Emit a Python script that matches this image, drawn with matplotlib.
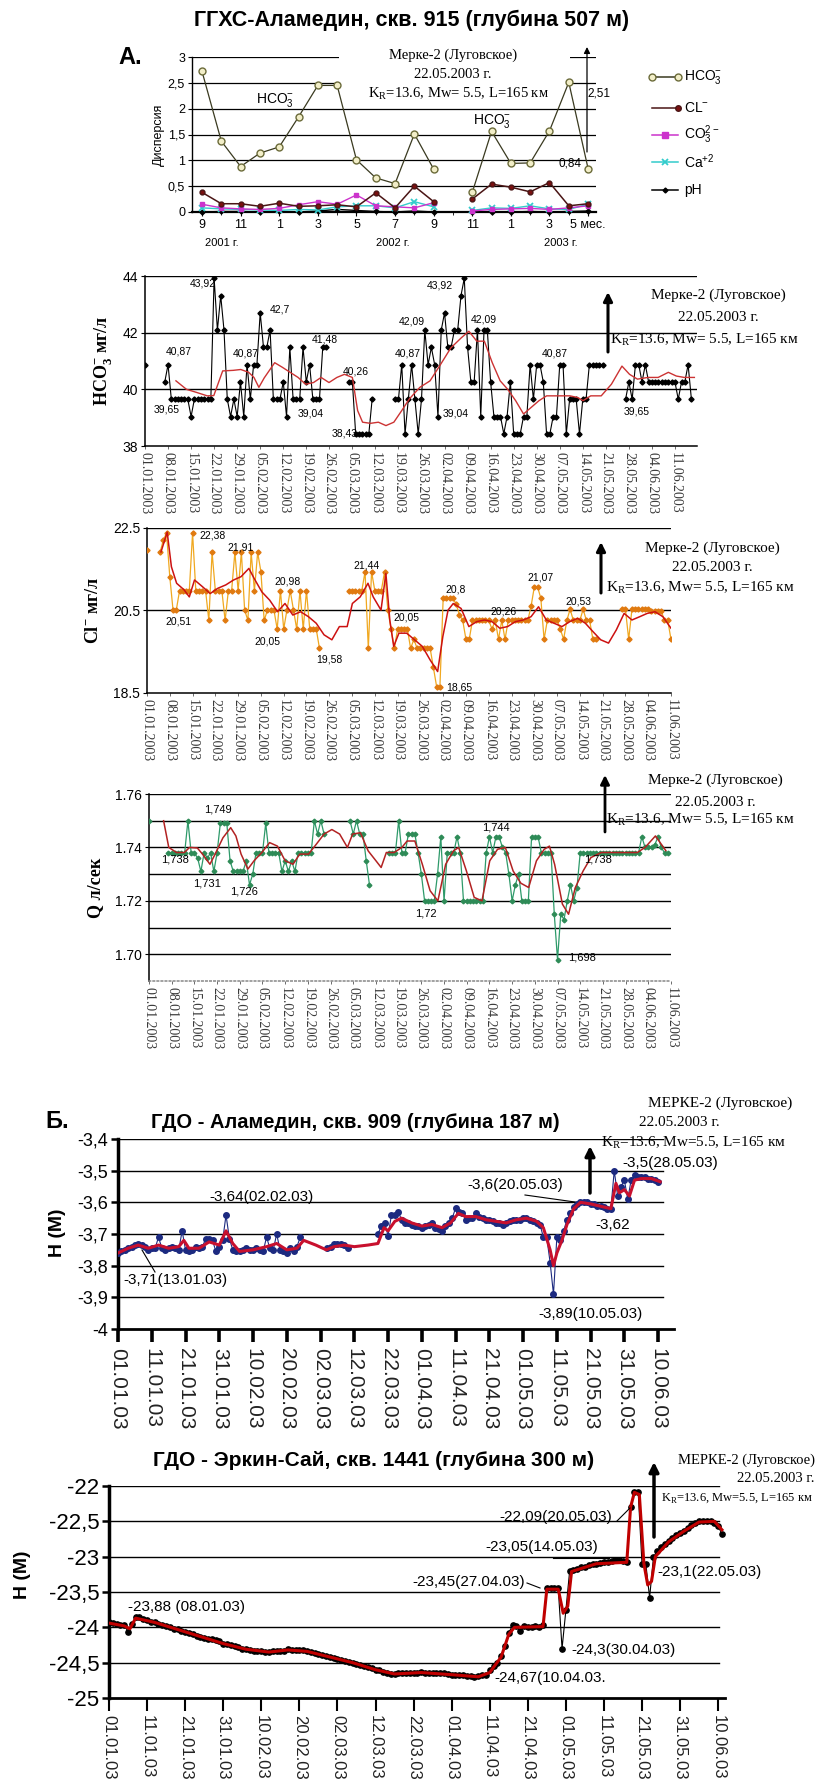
import datetime

import numpy as np
import matplotlib
matplotlib.use("Agg")
from matplotlib import pyplot as plt
from matplotlib.lines import Line2D
from matplotlib.patches import FancyArrowPatch, Rectangle

nan = np.nan

# ---------------- panel A: monthly dispersion (Sep 2001 .. May 2003) ----------------
a_tick_labels = ["9", "11", "1", "3", "5", "7", "9", "11", "1", "3", "5 мес."]
a_hco3 = [2.72, 1.37, 0.88, 1.14, 1.26, 1.84, 2.45, 2.45, 1.01, 0.66, 0.55, 1.51, 0.83,
          nan, 0.38, 1.56, 0.94, 0.95, 1.57, 2.51, 0.84]
a_cl = [0.38, 0.16, 0.16, 0.11, 0.17, 0.11, 0.12, 0.14, 0.10, 0.37, 0.08, 0.50, 0.20,
        nan, 0.25, 0.54, 0.48, 0.39, 0.57, 0.12, 0.16]
a_co3 = [0.15, 0.08, 0.06, 0.05, 0.07, 0.14, 0.20, 0.15, 0.33, 0.12, 0.10, 0.08, 0.18,
         nan, 0.02, 0.05, 0.06, 0.07, 0.05, 0.08, 0.12]
a_ca = [0.08, 0.06, 0.05, 0.04, 0.03, 0.05, 0.04, 0.10, 0.12, 0.12, 0.08, 0.20, 0.10,
        nan, 0.03, 0.08, 0.07, 0.12, 0.06, 0.05, 0.15]
a_ph = [0.00, 0.01, 0.01, 0.00, 0.01, 0.00, 0.02, 0.05, 0.03, 0.01, 0.00, 0.02, 0.00,
        nan, 0.00, 0.00, 0.00, 0.01, 0.00, 0.01, 0.02]

# ---------------- daily series, Jan 1 2003 onwards ----------------
week_labels = ["01.01.2003", "08.01.2003", "15.01.2003", "22.01.2003", "29.01.2003",
               "05.02.2003", "12.02.2003", "19.02.2003", "26.02.2003", "05.03.2003",
               "12.03.2003", "19.03.2003", "26.03.2003", "02.04.2003", "09.04.2003",
               "16.04.2003", "23.04.2003", "30.04.2003", "07.05.2003", "14.05.2003",
               "21.05.2003", "28.05.2003", "04.06.2003", "11.06.2003"]
decade_labels = ["01.01.03", "11.01.03", "21.01.03", "31.01.03", "10.02.03", "20.02.03",
                 "02.03.03", "12.03.03", "22.03.03", "01.04.03", "11.04.03", "21.04.03",
                 "01.05.03", "11.05.03", "21.05.03", "31.05.03", "10.06.03"]

hco3 = [40.87, nan, nan, nan, nan, nan, 40.26, 40.87, 39.65, 39.65,
        39.65, 39.65, 39.65, 39.65, 39.04, 39.65, 39.65, 39.65, 39.65, 39.65,
        39.65, 43.92, 42.09, 43.31, 42.09, 39.65, 39.04, 39.65, 39.04, 40.26,
        39.04, 40.87, 39.65, 40.87, 40.87, 42.70, 41.48, 41.48, 42.09, 39.65,
        39.65, 39.65, 40.26, 39.04, 41.48, 39.65, 39.65, 39.65, 41.48, 40.26,
        40.87, 39.65, 39.65, 39.65, 41.48, 41.48, nan, nan, nan, nan,
        nan, nan, 40.26, 40.26, 38.43, 38.43, 38.43, 38.43, 38.43, 39.65,
        nan, nan, nan, nan, nan, nan, 39.65, 39.65, 40.87, 38.43,
        39.65, 40.87, 39.65, 38.43, 39.65, 42.09, 40.87, 41.48, 40.87, 39.04,
        42.09, 42.70, 41.48, 41.48, 42.09, 42.09, 43.31, 43.92, 41.48, 40.26,
        40.26, 42.09, 39.04, 42.09, 42.09, 40.26, 39.04, 39.04, 39.04, 38.43,
        39.04, 40.26, 38.43, 38.43, 38.43, 39.04, 39.04, 40.87, 39.65, 40.87,
        40.87, 40.26, 38.43, 38.43, 39.04, 39.04, 40.87, 40.87, 38.43, 39.65,
        39.65, 39.65, 38.43, 39.65, 39.65, 40.87, 40.87, 40.87, 40.87, 40.87,
        nan, nan, nan, nan, nan, nan, 39.65, 40.26, 39.65, 40.87,
        40.87, 40.26, 40.87, 40.26, 40.26, 40.26, 40.26, 40.26, 40.26, 40.26,
        40.26, 40.26, 39.65, 40.26, 40.26, 40.87, 39.65]
hco3_red_day = [9.4, 12.6, 15.7, 18.9, 20.9, 23.6, 26.8, 29.1, 31.5, 33.1, 34.6, 36.2, 39.4,
                41.7, 44.1, 46.5, 48.8, 51.2, 53.5, 55.9, 58.3, 60.6, 63.0, 64.6, 66.1, 68.5,
                70.9, 73.2, 75.6, 78.0, 80.3, 83.5, 86.6, 89.8, 92.9, 96.1, 98.4, 100.8,
                103.1, 105.5, 107.9, 110.2, 112.6, 115.0, 117.3, 119.7, 122.0, 124.4, 126.8,
                129.1, 131.5, 133.1, 135.4, 138.6, 141.7, 144.9, 147.2, 149.6, 152.8, 155.9,
                159.0, 161.4, 163.8, 166.9]
hco3_red_val = [40.30, 40.00, 39.89, 39.77, 39.78, 40.65, 40.67, 40.70, 40.60, 40.42, 40.07,
                40.40, 40.94, 40.78, 40.60, 40.42, 40.18, 40.24, 40.42, 40.24, 40.42, 40.53,
                40.42, 39.25, 38.84, 38.80, 38.84, 38.72, 38.84, 39.25, 39.66, 40.07, 40.30,
                40.88, 41.46, 41.82, 42.05, 41.70, 41.70, 40.94, 40.30, 40.00, 39.60, 39.13,
                39.36, 39.60, 39.77, 39.77, 39.77, 39.77, 39.71, 39.60, 39.77, 39.77, 40.18,
                40.82, 40.53, 40.36, 40.42, 40.42, 40.60, 40.47, 40.42, 40.42]

cl = [21.96, nan, nan, nan, 21.91, 22.20, 22.38, 21.32, 20.51, 20.51,
      20.98, 20.98, 20.98, 20.98, 22.38, 20.98, 20.98, 20.98, 20.98, 20.26,
      21.91, 20.98, 20.98, 20.98, 20.26, 20.98, 20.98, 21.91, 20.98, 21.91,
      20.51, 20.26, 21.91, 20.98, 21.91, 21.44, 20.26, 20.51, 20.51, 20.51,
      20.05, 20.98, 20.05, 20.51, 20.98, 20.51, 20.05, 20.98, 20.05, 20.98,
      20.05, 20.05, 20.05, 19.58, nan, nan, nan, nan, nan, nan,
      nan, nan, 20.98, 20.98, 20.98, 20.98, 20.98, 21.44, 19.58, 21.44,
      20.98, 20.98, 20.98, 21.44, 20.51, 20.05, 19.58, 20.05, 20.05, 20.05,
      20.05, 19.58, 19.80, 19.58, 19.58, 19.58, 19.58, 19.58, 19.12, 18.65,
      18.65, 20.80, 20.80, 20.80, 20.80, 20.65, 20.40, 20.26, 19.80, 19.80,
      20.26, 20.26, 20.26, 20.26, 20.26, 20.26, 20.05, 20.26, 19.80, 20.26,
      19.80, 20.26, 20.26, 20.26, 20.26, 20.26, 20.26, 20.26, 20.60, 21.07,
      21.07, 20.80, 19.80, 20.26, 20.26, 20.26, 20.26, 20.05, 19.80, 20.26,
      20.53, 20.26, 20.26, 20.26, 20.53, 20.26, 20.26, 19.80, 19.80, nan,
      nan, nan, nan, nan, nan, nan, 20.53, 20.53, 19.80, 20.53,
      20.53, 20.53, 20.53, 20.53, 20.53, 20.49, 20.49, 20.49, 20.49, 20.26,
      20.26, 19.80]
cl_red_day = [4.3, 6.2, 7.5, 9.1, 11.4, 13.0, 14.6, 17.0, 19.4, 21.8, 24.2, 26.6, 28.9, 31.3,
              32.9, 35.3, 37.7, 40.1, 42.4, 44.8, 47.2, 49.6, 52.0, 54.4, 56.8, 59.1, 61.5,
              63.1, 65.5, 67.9, 69.5, 71.9, 73.4, 74.6, 75.8, 77.4, 79.8, 82.2, 84.6, 87.0,
              89.3, 90.9, 92.5, 94.1, 96.5, 98.9, 101.3, 103.7, 106.0, 108.4, 110.8, 113.2,
              115.6, 118.0, 120.3, 122.7, 125.1, 127.5, 129.9, 132.3, 134.7, 137.0, 139.4,
              141.8, 144.2, 146.6, 149.0, 151.4, 153.7, 156.1, 158.5, 161.0]
cl_red_val = [21.92, 22.40, 21.56, 21.16, 21.00, 20.83, 21.24, 21.08, 20.91, 21.04, 21.12,
              21.24, 21.32, 21.52, 21.28, 20.95, 20.75, 20.47, 20.67, 20.39, 20.47, 20.35,
              20.19, 19.91, 19.79, 20.11, 20.11, 20.67, 20.83, 21.16, 20.83, 20.51, 21.40,
              20.27, 19.63, 19.95, 19.95, 19.79, 19.63, 19.30, 19.02, 19.87, 20.51, 20.67,
              20.55, 20.11, 20.23, 20.27, 20.23, 20.07, 20.11, 20.23, 20.27, 20.35, 20.59,
              20.27, 20.19, 20.11, 20.23, 20.31, 20.19, 19.99, 19.79, 19.71, 20.03, 20.43,
              20.27, 20.35, 20.43, 20.47, 20.35, 20.07]

q = [1.750, nan, nan, nan, nan, nan, 1.738, 1.738, 1.738, 1.738,
     1.738, 1.738, 1.750, 1.738, 1.738, 1.736, 1.731, 1.738, 1.736, 1.738,
     1.731, 1.738, 1.749, 1.749, 1.749, 1.735, 1.731, 1.731, 1.731, 1.731,
     1.735, 1.726, 1.730, 1.738, 1.738, 1.738, 1.749, 1.738, 1.738, 1.738,
     1.738, 1.731, 1.735, 1.731, 1.735, 1.731, 1.738, 1.738, 1.738, 1.738,
     1.738, 1.750, 1.745, 1.750, 1.745, nan, nan, nan, nan, nan,
     nan, nan, 1.750, 1.745, 1.750, 1.745, 1.745, 1.735, 1.726, nan,
     nan, nan, nan, nan, 1.738, 1.738, 1.738, 1.750, 1.738, 1.738,
     1.745, 1.745, 1.745, 1.738, 1.730, 1.720, 1.720, 1.720, 1.720, 1.730,
     1.744, 1.720, 1.738, 1.738, 1.738, 1.744, 1.738, 1.720, 1.720, 1.720,
     1.720, 1.720, 1.720, 1.720, 1.738, 1.744, 1.738, 1.744, 1.744, 1.740,
     1.738, 1.730, 1.720, 1.726, 1.730, 1.720, 1.720, 1.720, 1.744, 1.744,
     1.744, 1.738, 1.738, 1.738, 1.738, 1.715, 1.698, 1.715, 1.713, 1.720,
     1.726, 1.720, 1.725, 1.738, 1.738, 1.738, 1.738, 1.738, 1.738, 1.738,
     1.738, 1.738, 1.738, 1.738, 1.738, 1.738, 1.738, 1.738, 1.738, 1.738,
     1.738, 1.738, 1.744, 1.740, 1.740, 1.740, 1.741, 1.744, 1.740, 1.738,
     1.738]
q_red_day = [4.5, 6.1, 8.5, 10.9, 12.5, 14.9, 16.5, 18.8, 20.4, 22.8, 25.2, 26.8, 28.4, 30.5,
             32.4, 34.8, 37.2, 39.6, 42.0, 44.4, 46.5, 49.2, 51.6, 54.0, 56.4, 58.8, 61.2,
             62.8, 65.2, 67.6, 70.0, 71.6, 73.2, 75.6, 78.0, 79.6, 82.0, 84.3, 86.7, 89.1,
             91.5, 93.9, 95.5, 97.9, 100.3, 102.7, 105.1, 107.5, 109.9, 112.3, 114.7, 117.1,
             119.5, 121.9, 123.5, 125.1, 127.5, 129.4, 131.5, 133.9, 136.3, 139.5, 145.8,
             150.6, 153.0, 156.2, 159.4]
q_red_val = [1.7500, 1.7400, 1.7381, 1.7381, 1.7400, 1.7398, 1.7375, 1.7337, 1.7375, 1.7436,
             1.7474, 1.7443, 1.7375, 1.7319, 1.7350, 1.7381, 1.7418, 1.7405, 1.7350, 1.7337,
             1.7375, 1.7375, 1.7412, 1.7450, 1.7467, 1.7450, 1.7400, 1.7450, 1.7455, 1.7387,
             1.7350, 1.7325, 1.7381, 1.7381, 1.7400, 1.7424, 1.7424, 1.7337, 1.7238, 1.7200,
             1.7337, 1.7387, 1.7400, 1.7312, 1.7213, 1.7200, 1.7350, 1.7393, 1.7400, 1.7312,
             1.7266, 1.7250, 1.7350, 1.7393, 1.7405, 1.7337, 1.7188, 1.7150, 1.7250, 1.7312,
             1.7362, 1.7381, 1.7381, 1.7381, 1.7400, 1.7443, 1.7388]

h909 = [-3.760, -3.755, -3.750, -3.745, -3.740, -3.735, -3.730, -3.735, -3.740, -3.750,
        -3.745, -3.745, -3.710, -3.745, -3.750, -3.745, -3.740, -3.745, -3.750, -3.690,
        -3.750, -3.755, -3.750, -3.740, -3.745, -3.740, -3.715, -3.715, -3.720, -3.755,
        -3.740, -3.720, -3.640, -3.715, -3.750, -3.755, -3.755, -3.750, -3.745, -3.750,
        -3.750, -3.745, -3.750, -3.755, -3.710, -3.745, -3.750, -3.700, -3.750, -3.755,
        -3.760, -3.745, -3.755, -3.740, -3.710, nan, nan, nan, nan, nan,
        nan, nan, -3.745, -3.740, -3.730, -3.730, -3.730, -3.735, -3.745, nan,
        nan, nan, nan, nan, nan, nan, nan, -3.700, -3.675, -3.665,
        -3.705, -3.640, -3.640, -3.630, -3.655, -3.665, -3.665, -3.670, -3.675, -3.675,
        -3.680, -3.675, -3.670, -3.665, -3.680, -3.685, -3.690, -3.675, -3.665, -3.650,
        -3.618, -3.630, -3.635, -3.655, -3.650, -3.650, -3.635, -3.645, -3.650, -3.655,
        -3.655, -3.660, -3.665, -3.665, -3.670, -3.665, -3.660, -3.655, -3.655, -3.655,
        -3.650, -3.650, -3.655, -3.660, -3.665, -3.670, -3.710, -3.710, -3.790, -3.890,
        -3.710, -3.720, -3.690, -3.655, -3.635, -3.615, -3.605, -3.600, -3.600, -3.600,
        -3.605, -3.605, -3.610, -3.610, -3.615, -3.620, -3.620, -3.500, -3.580, -3.550,
        -3.530, -3.590, -3.530, -3.515, -3.520, -3.520, -3.520, -3.525, -3.525, -3.530,
        -3.535]
h909_red_day = [0, 3, 6, 9, 12, 15, 18, 19.5, 21, 24, 27, 30, 32, 34, 36, 40, 44, 47, 50, 53,
                55, 58.6, 61.7, 64, 67, 70, 74, 77, 78.8, 80, 82, 84, 87, 90, 93, 96, 98.5,
                100.8, 103, 106, 109, 112, 115, 118, 121, 124, 126, 128, 129, 130, 131.5, 133,
                135, 137, 140, 144, 146, 147.5, 148.5, 150, 151.5, 153, 155, 158, 160.6]
h909_red_val = [-3.760, -3.745, -3.735, -3.745, -3.735, -3.745, -3.740, -3.720, -3.745,
                -3.745, -3.725, -3.735, -3.690, -3.730, -3.755, -3.750, -3.740, -3.730,
                -3.750, -3.745, -3.720, -3.735, -3.750, -3.740, -3.735, -3.740, -3.735,
                -3.730, -3.680, -3.690, -3.660, -3.650, -3.665, -3.675, -3.670, -3.680,
                -3.665, -3.635, -3.645, -3.645, -3.655, -3.660, -3.665, -3.655, -3.650,
                -3.660, -3.680, -3.750, -3.800, -3.760, -3.720, -3.670, -3.620, -3.600,
                -3.605, -3.615, -3.620, -3.540, -3.570, -3.560, -3.580, -3.530, -3.525,
                -3.525, -3.535]

h1441 = [-23.93, -23.94, -23.95, -23.96, -23.97, -24.06, -23.95, -23.86, -23.86, -23.88,
         -23.90, -23.92, -23.93, -23.95, -23.97, -23.98, -24.00, -24.02, -24.03, -24.05,
         -24.07, -24.08, -24.10, -24.12, -24.13, -24.15, -24.16, -24.17, -24.18, -24.20,
         -24.24, -24.24, -24.25, -24.26, -24.28, -24.30, -24.31, -24.32, -24.33, -24.34,
         -24.34, -24.35, -24.35, -24.34, -24.34, -24.34, -24.33, -24.31, -24.32, -24.32,
         -24.32, -24.32, -24.34, -24.35, -24.36, -24.38, -24.39, -24.40, -24.42, -24.44,
         -24.45, -24.46, -24.48, -24.49, -24.50, -24.52, -24.54, -24.55, -24.56, -24.58,
         -24.60, -24.61, -24.63, -24.64, -24.66, -24.66, -24.65, -24.64, -24.64, -24.65,
         -24.64, -24.64, -24.63, -24.64, -24.64, -24.65, -24.64, -24.64, -24.65, -24.66,
         -24.67, -24.67, -24.67, -24.68, -24.69, -24.69, -24.70, -24.69, -24.68, -24.67,
         -24.61, -24.55, -24.50, -24.40, -24.27, -24.08, -23.97, -23.98, -24.05, -23.98,
         -24.00, -23.99, -23.98, -24.00, -23.97, -23.45, -23.45, -23.45, -23.45, -24.30,
         -23.76, -23.20, -23.19, -23.17, -23.15, -23.14, -23.12, -23.11, -23.10, -23.09,
         -23.08, -23.07, -23.06, -23.05, -23.05, -23.06, -23.08, -22.30, -22.09, -22.09,
         -23.10, -23.10, -23.58, -23.01, -22.92, -22.87, -22.82, -22.78, -22.74, -22.70,
         -22.66, -22.64, -22.60, -22.55, -22.52, -22.50, -22.50, -22.50, -22.50, -22.52,
         -22.57, -22.68]
h1441_red_day = [0, 4, 5.5, 7, 12, 18, 24, 30, 36, 42, 47, 52, 58, 64, 70, 75, 82, 90, 97,
                 100, 103, 105, 106.5, 114, 115, 118, 119.3, 120.5, 121.5, 128, 136, 137, 138,
                 139.3, 140.5, 141.5, 142.5, 143.5, 147, 151, 155, 159, 161]
h1441_red_val = [-23.94, -23.98, -24.02, -23.87, -23.93, -24.03, -24.13, -24.23, -24.31,
                 -24.35, -24.32, -24.34, -24.42, -24.50, -24.60, -24.66, -24.64, -24.67,
                 -24.70, -24.64, -24.42, -24.10, -24.00, -23.99, -23.46, -23.46, -23.80,
                 -23.70, -23.21, -23.10, -23.08, -22.30, -22.09, -22.12, -23.10, -23.40,
                 -23.35, -23.00, -22.79, -22.64, -22.51, -22.50, -22.62]

W, H = 820, 1787
SANS = ["Liberation Sans", "DejaVu Sans"]
SERIF = ["Liberation Serif", "DejaVu Serif"]
plt.rcParams["font.family"] = SANS
plt.rcParams["mathtext.fontset"] = "custom"
plt.rcParams["mathtext.rm"] = "Liberation Sans"

fig = plt.figure(figsize=(W / 100, H / 100), dpi=100)
fig.patch.set_facecolor("white")


def px_axes(left, top, right, bottom):
    return fig.add_axes([left / W, 1 - bottom / H, (right - left) / W, (bottom - top) / H])


def ftext(x, y, s, **kw):
    kw.setdefault("ha", "center")
    kw.setdefault("va", "center")
    return fig.text(x / W, 1 - y / H, s, **kw)


def fline(xs, ys, **kw):
    kw.setdefault("color", "black")
    kw.setdefault("lw", 0.8)
    fig.add_artist(Line2D([x / W for x in xs], [1 - y / H for y in ys],
                          transform=fig.transFigure, **kw))


def farrow(x, y0, y1, lw=2.0, scale=14):
    fig.add_artist(FancyArrowPatch((x / W, 1 - y0 / H), (x / W, 1 - y1 / H),
                                   transform=fig.transFigure, arrowstyle="-|>",
                                   mutation_scale=scale, lw=lw, color="black",
                                   shrinkA=0, shrinkB=0))


def day_of(label):
    fmt = "%d.%m.%Y" if len(label) == 10 else "%d.%m.%y"
    return (datetime.datetime.strptime(label, fmt) - datetime.datetime(2003, 1, 1)).days


KR = "K$_{\\mathregular{R}}$"


def quake_note(x, y_name, y_date, y_k, x_k, size=11):
    ftext(x, y_name, "Мерке-2 (Луговское)", family=SERIF, size=size)
    ftext(x, y_date, "22.05.2003 г.", family=SERIF, size=size)
    ftext(x_k, y_k, KR + "=13.6, Mw= 5.5, L=165 км", family=SERIF, size=size, ha="left")


# ================= A =================
ftext(412, 20, "ГГХС-Аламедин, скв. 915 (глубина 507 м)", size=15.5, weight="bold")
ftext(130, 58, "А.", size=17, weight="bold")

axA = px_axes(192, 57, 596, 212)
months = np.arange(len(a_hco3))
axA.set_xlim(-0.52, 20.41)
axA.set_ylim(0, 3)
for v in [0.5, 1, 1.5, 2, 2.5, 3]:
    axA.axhline(v, color="black", lw=0.9, zorder=1)
axA.add_patch(Rectangle((7.1, 2.3), 11.95, 0.8, facecolor="white", edgecolor="none",
                        zorder=2, clip_on=False))
axA.plot(months, a_ph, color="black", lw=1, marker="D", ms=2.5, zorder=4, clip_on=False)
axA.plot(months, a_ca, color="#33CCCC", lw=1, marker="x", ms=4, mew=1.3, zorder=4, clip_on=False)
axA.plot(months, a_co3, color="#CC33CC", lw=1, marker="s", ms=3.5, zorder=4, clip_on=False)
axA.plot(months, a_cl, color="#4A1515", lw=1.1, marker="o", ms=3.5, mfc="#7A1010",
         zorder=5, clip_on=False)
axA.plot(months, a_hco3, color="#3A3A20", lw=0.9, marker="o", ms=5, mfc="#F2EEC8",
         mec="#6B6B3A", zorder=6, clip_on=False)
axA.spines["top"].set_visible(False)
axA.spines["right"].set_visible(False)
axA.spines["left"].set_linewidth(1.0)
axA.spines["bottom"].set_linewidth(1.6)
axA.set_yticks([0, 0.5, 1, 1.5, 2, 2.5, 3])
axA.set_yticklabels(["0", "0,5", "1", "1,5", "2", "2,5", "3"])
axA.set_xticks(np.arange(0, 21, 2))
axA.set_xticklabels(a_tick_labels)
axA.set_xticks(months, minor=True)
axA.tick_params(labelsize=9, length=3, width=0.8, pad=2)
axA.tick_params(which="minor", length=2)
axA.set_ylabel("Дисперсия", size=9, labelpad=2)

ftext(453, 55, "Мерке-2 (Луговское)", family=SERIF, size=10.5)
ftext(453, 74, "22.05.2003 г.", family=SERIF, size=10.5)
ftext(458, 94, KR + "=13.6, Mw= 5.5, L=165 км", family=SERIF, size=10.5)
farrow(587, 152, 47, lw=0.9, scale=9)
ftext(599, 93, "2,51", size=8.5)
ftext(570, 163, "0,84", size=8.5)
ftext(275, 100, "HCO$_{\\mathregular{3}}^{\\mathregular{-}}$", size=10)
ftext(492, 121, "HCO$_{\\mathregular{3}}^{\\mathregular{-}}$", size=10)
ftext(222, 243, "2001 г.", size=8)
ftext(393, 243, "2002 г.", size=8)
ftext(561, 243, "2003 г.", size=8)

leg = [("HCO$_{\\mathregular{3}}^{\\mathregular{-}}$", dict(color="#3A3A20", marker="o", ms=5,
                                                            mfc="#F2EEC8", mec="#6B6B3A",
                                                            markevery=[0, 2])),
       ("CL$^{\\mathregular{-}}$", dict(color="#4A1515", marker="o", ms=4, mfc="#7A1010",
                                       markevery=[2])),
       ("CO$_{\\mathregular{3}}^{\\mathregular{2-}}$", dict(color="#CC33CC", marker="s", ms=4,
                                                           markevery=[1])),
       ("Ca$^{\\mathregular{+2}}$", dict(color="#33CCCC", marker="x", ms=4, mew=1.3,
                                        markevery=[1])),
       ("pH", dict(color="black", marker="D", ms=2.5, markevery=[1]))]
for (label, style), y in zip(leg, [77, 108, 135, 162, 190]):
    fline([652, 665, 678], [y, y, y], lw=1.1, **style)
    ftext(684, y, label, size=10, ha="left")


def week_axis(ax, bottom_style="-"):
    ax.set_xticks([day_of(s) for s in week_labels])
    ax.set_xticklabels(week_labels, rotation=-90, family=SERIF, size=10, color="#3A3A3A")
    ax.tick_params(axis="x", length=2.5, width=0.6, pad=2, color="#555555")
    ax.tick_params(axis="y", labelsize=10, length=3, width=0.8, pad=2)
    ax.spines["top"].set_visible(False)
    ax.spines["right"].set_visible(False)
    ax.spines["left"].set_linewidth(1.1)
    ax.spines["bottom"].set_linewidth(1.1)
    ax.spines["bottom"].set_linestyle(bottom_style)


# ================= HCO3 =================
axH = px_axes(145, 276, 697, 446)
axH.set_xlim(0, 167.7)
axH.set_ylim(38, 44)
for v in [40, 42, 44]:
    axH.axhline(v, color="black", lw=1.0, zorder=1)
axH.plot(np.arange(len(hco3)), hco3, color="black", lw=0.8, marker="D", ms=2.6, zorder=3)
axH.plot(hco3_red_day, hco3_red_val, color="#CC3333", lw=1.0, zorder=4)
axH.set_yticks([38, 40, 42, 44])
week_axis(axH)
axH.set_ylabel("HCO$_{\\mathregular{3}}^{\\mathregular{-}}$ мг/л", family=SERIF, size=13,
               weight="bold", labelpad=6)
for x, y, s in [(203, 284, "43,92"), (179, 352, "40,87"), (167, 409, "39,65"),
                (246, 353, "40,87"), (280, 310, "42,7"), (325, 339, "41,48"),
                (311, 414, "39,04"), (356, 372, "40,26"), (345, 433, "38,43"),
                (408, 353, "40,87"), (412, 322, "42,09"), (440, 285, "43,92"),
                (484, 320, "42,09"), (456, 414, "39,04"), (555, 353, "40,87"),
                (637, 412, "39,65")]:
    ftext(x, y, s, size=7.5)
farrow(608, 352, 292, lw=2.2, scale=13)
quake_note(718, 295, 318, 340, 610)

# ================= Cl =================
axC = px_axes(147, 528, 671, 693)
axC.set_xlim(0, 161)
axC.set_ylim(18.5, 22.5)
for v in [20.5, 22.5]:
    axC.axhline(v, color="black", lw=1.0, zorder=1)
axC.plot(np.arange(len(cl)), cl, color="#F0A820", lw=0.9, marker="D", ms=2.6,
         mfc="#E07A10", mec="#E07A10", zorder=3)
axC.plot(cl_red_day, cl_red_val, color="#CC1111", lw=1.1, zorder=4)
axC.set_yticks([18.5, 20.5, 22.5])
axC.set_yticklabels(["18.5", "20.5", "22.5"])
week_axis(axC)
axC.set_ylabel("Cl$^{\\mathregular{-}}$ мг/л", family=SERIF, size=13, weight="bold",
               labelpad=8)
for x, y, s in [(213, 536, "22,38"), (241, 548, "21,91"), (288, 582, "20,98"),
                (179, 621, "20,51"), (267, 642, "20,05"), (329, 660, "19,58"),
                (367, 565, "21,44"), (406, 618, "20,05"), (459, 688, "18,65"),
                (456, 590, "20,8"), (504, 611, "20,26"), (541, 578, "21,07"),
                (578, 602, "20,53")]:
    ftext(x, y, s, size=7.5)
farrow(601, 593, 542, lw=2.2, scale=13)
quake_note(712, 548, 568, 588, 606)

# ================= Q =================
axQ = px_axes(149, 794, 671, 981)
axQ.set_xlim(0, 161)
axQ.set_ylim(1.69, 1.76)
for v in [1.70, 1.71, 1.72, 1.73, 1.74, 1.75, 1.76]:
    axQ.axhline(v, color="black", lw=1.0, zorder=1)
axQ.plot(np.arange(len(q)), q, color="#2E9A6A", lw=0.9, marker="D", ms=2.4,
         mfc="#2E8B57", mec="#2E8B57", zorder=3)
axQ.plot(q_red_day, q_red_val, color="#B22222", lw=1.1, zorder=4)
axQ.set_yticks([1.70, 1.72, 1.74, 1.76])
axQ.set_yticklabels(["1.70", "1.72", "1.74", "1.76"])
week_axis(axQ, bottom_style=":")
axQ.spines["bottom"].set_color("#888888")
axQ.set_ylabel("Q л/сек", family=SERIF, size=13, weight="bold", labelpad=8)
for x, y, s in [(218, 809, "1,749"), (175, 860, "1,738"), (207, 883, "1,731"),
                (244, 891, "1,726"), (496, 827, "1,744"), (426, 913, "1,72"),
                (598, 860, "1,738"), (582, 958, "1,698")]:
    ftext(x, y, s, size=8)
farrow(605, 832, 775, lw=2.0, scale=13)
quake_note(715, 780, 802, 820, 606)


def decade_axis(ax, ylabels, ysize, tick_w, xsize, xpad):
    ax.set_xticks([day_of(s) for s in decade_labels])
    ax.set_xticklabels(decade_labels, rotation=-90, size=xsize, color="#222222")
    ax.tick_params(axis="x", length=9, width=tick_w, pad=xpad, direction="out")
    ax.tick_params(axis="y", length=5, width=1.8, pad=2, labelsize=ysize)
    ax.set_yticklabels(ylabels)
    ax.spines["top"].set_visible(False)
    ax.spines["right"].set_visible(False)
    ax.spines["left"].set_linewidth(2.5)
    ax.spines["bottom"].set_linewidth(2.0)


# ================= Б =================
ftext(57, 1121, "Б.", size=17, weight="bold")
ftext(355, 1123, "ГДО - Аламедин, скв. 909 (глубина 187 м)", size=14.5, weight="bold")
axB = px_axes(118, 1139, 674, 1329)
axB.set_xlim(0, 164.7)
axB.set_ylim(-4, -3.4)
for v in [-3.9, -3.8, -3.7, -3.6, -3.5, -3.4]:
    axB.axhline(v, xmax=0.98, color="black", lw=1.0, zorder=1)
axB.plot(np.arange(len(h909)), h909, color="#1C2A80", lw=0.8, marker="o", ms=4,
         zorder=3)
axB.plot(h909_red_day, h909_red_val, color="#C8102E", lw=2.2, zorder=4)
axB.set_yticks([-4, -3.9, -3.8, -3.7, -3.6, -3.5, -3.4])
decade_axis(axB, ["-4", "-3,9", "-3,8", "-3,7", "-3,6", "-3,5", "-3,4"], 13, 2.6, 15, 5)
ftext(57, 1233, "Н (М)", size=14, weight="bold", rotation=90)
ftext(262, 1197, "-3,64(02.02.03)", size=11)
ftext(175, 1280, "-3,71(13.01.03)", size=11)
fline([142, 155], [1250, 1272])
ftext(515, 1185, "-3,6(20.05.03)", size=11)
fline([525, 575], [1195, 1202])
ftext(613, 1225, "-3,62", size=11)
ftext(591, 1314, "-3,89(10.05.03)", size=11)
ftext(670, 1163, "-3,5(28.05.03)", size=11)
farrow(590, 1193, 1146, lw=2.5, scale=14)
ftext(720, 1103, "МЕРКЕ-2 (Луговское)", family=SERIF, size=11)
ftext(679, 1123, "22.05.2003 г.", family=SERIF, size=11)
ftext(601, 1143, KR + "=13.6, Mw=5.5, L=165 км", family=SERIF, size=11, ha="left")

# ================= Эркин-Сай =================
ftext(374, 1460, "ГДО - Эркин-Сай, скв. 1441 (глубина 300 м)", size=15, weight="bold")
axE = px_axes(109, 1486, 725, 1698)
axE.set_xlim(0, 161.8)
axE.set_ylim(-25, -22)
for v in [-24.5, -24, -23.5, -23, -22.5, -22]:
    axE.axhline(v, xmax=0.99, color="black", lw=1.0, zorder=1)
axE.plot(np.arange(len(h1441)), h1441, color="black", lw=0.8, marker="o", ms=3.8, zorder=3)
axE.plot(h1441_red_day, h1441_red_val, color="#C00000", lw=2.2, zorder=4)
axE.set_yticks([-25, -24.5, -24, -23.5, -23, -22.5, -22])
decade_axis(axE, ["-25", "-24,5", "-24", "-23,5", "-23", "-22,5", "-22"], 16, 1.5, 12, 3)
ftext(23, 1575, "Н (М)", size=14, weight="bold", rotation=90)
ftext(612, 1517, "-22,09(20.05.03)", size=11, ha="right")
fline([617, 630], [1521, 1508])
ftext(542, 1547, "-23,05(14.05.03)", size=11)
fline([553, 609], [1558, 1558])
ftext(525, 1582, "-23,45(27.04.03)", size=11, ha="right")
fline([527, 540], [1583, 1588])
ftext(657, 1572, "-23,1(22.05.03)", size=11, ha="left")
ftext(571, 1650, "-24,3(30.04.03)", size=11, ha="left")
ftext(494, 1678, "-24,67(10.04.03.", size=11, ha="left")
ftext(128, 1607, "-23,88 (08.01.03)", size=11, ha="left")
farrow(654, 1537, 1462, lw=2.5, scale=14)
ftext(815, 1460, "МЕРКЕ-2 (Луговское)", family=SERIF, size=10.5, ha="right")
ftext(815, 1478, "22.05.2003 г.", family=SERIF, size=10.5, ha="right")
ftext(661, 1498, KR + "=13.6, Mw=5.5, L=165 км", family=SERIF, size=9, ha="left")

fig.savefig("out.png", dpi=100)
